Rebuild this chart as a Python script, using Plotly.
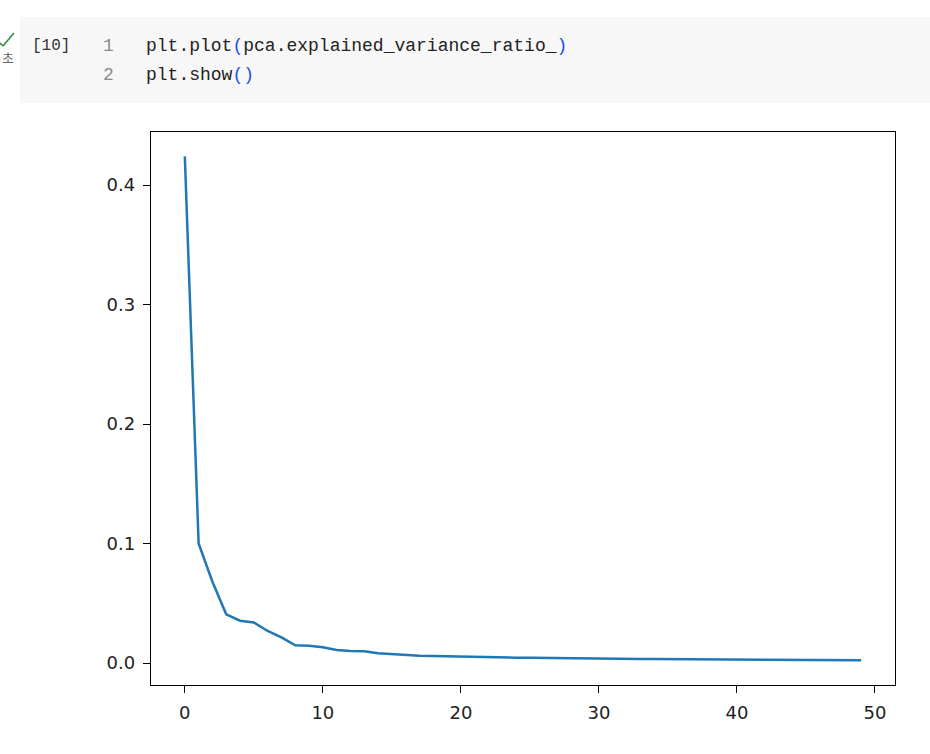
import plotly.graph_objects as go

# ---- data ----
components = list(range(50))
explained_variance_ratio = [
    0.424, 0.100, 0.068, 0.0408, 0.0354, 0.0340, 0.0268, 0.0215, 0.0148, 0.0145,
    0.0131, 0.0109, 0.0100, 0.0098, 0.0081, 0.0073, 0.0067, 0.0061, 0.0058, 0.0055,
    0.0053, 0.0051, 0.0049, 0.0047, 0.0045, 0.0044, 0.0042, 0.0040, 0.0039, 0.0038,
    0.0036, 0.0035, 0.0034, 0.0033, 0.0033, 0.0032, 0.0031, 0.0031, 0.0030, 0.0029,
    0.0029, 0.0028, 0.0027, 0.0027, 0.0026, 0.0026, 0.0025, 0.0025, 0.0024, 0.0023,
]
x_ticks = [0, 10, 20, 30, 40, 50]
y_ticks = [0.0, 0.1, 0.2, 0.3, 0.4]
y_tick_labels = ["0.0", "0.1", "0.2", "0.3", "0.4"]
cell_number = "[10]"
code_lines = [
    'plt.plot<span style="color:#1f4fe0">(</span>pca.explained_variance_ratio_<span style="color:#1f4fe0">)</span>',
    'plt.show<span style="color:#1f4fe0">()</span>',
]

W, H = 930, 754
L, R, T, B = 151, 895, 132, 685


def px(x):
    return (x - L) / (R - L)


def py(y):
    return (B - y) / (B - T)


fig = go.Figure()
fig.add_trace(go.Scatter(
    x=components, y=explained_variance_ratio, mode="lines",
    line=dict(color="#1f77b4", width=2.5), hoverinfo="skip", showlegend=False,
))

shapes = [
    dict(type="rect", xref="paper", yref="paper", x0=px(20), x1=px(940),
         y0=py(103), y1=py(17), fillcolor="#f7f7f7", line=dict(width=0), layer="below"),
    dict(type="line", xref="paper", yref="paper", x0=px(0), y0=py(43), x1=px(3), y1=py(46),
         line=dict(color="#2e8b3a", width=1.6)),
    dict(type="line", xref="paper", yref="paper", x0=px(3), y0=py(46), x1=px(14), y1=py(33),
         line=dict(color="#2e8b3a", width=1.6)),
]

annotations = [
    dict(text="초", xref="paper", yref="paper", x=px(8), y=py(57), xanchor="center",
         yanchor="middle", showarrow=False,
         font=dict(family="Noto Sans CJK KR", size=13, color="#666666")),
    dict(text=cell_number, xref="paper", yref="paper", x=px(30), y=py(46), xanchor="left",
         yanchor="middle", showarrow=False,
         font=dict(family="Liberation Mono", size=16, color="#333333")),
]
for i, line in enumerate(code_lines):
    yy = 46 + i * 29
    annotations.append(dict(text=str(i + 1), xref="paper", yref="paper", x=px(101), y=py(yy),
                            xanchor="left", yanchor="middle", showarrow=False,
                            font=dict(family="Liberation Mono", size=18, color="#8a8a8a")))
    annotations.append(dict(text=line, xref="paper", yref="paper", x=px(144), y=py(yy),
                            xanchor="left", yanchor="middle", showarrow=False,
                            font=dict(family="Liberation Mono", size=18, color="#222222")))

axis_common = dict(
    showline=True, linecolor="#000000", linewidth=1.3, mirror=True,
    ticks="outside", ticklen=7, tickwidth=1.3, tickcolor="#000000",
    showgrid=False, zeroline=False,
    tickfont=dict(family="DejaVu Sans", size=18, color="#222222"),
)

fig.update_layout(
    width=W, height=H,
    margin=dict(l=L, r=W - R, t=T, b=H - B),
    paper_bgcolor="white", plot_bgcolor="white",
    xaxis=dict(range=[-2.45, 51.45], tickvals=x_ticks, ticklabelstandoff=4, **axis_common),
    yaxis=dict(range=[-0.0184, 0.4444], tickvals=y_ticks, ticktext=y_tick_labels,
               ticklabelstandoff=4, **axis_common),
    shapes=shapes, annotations=annotations,
)

fig.write_html("out.html", config={"displayModeBar": False},
               post_script="document.body.style.margin='0px';document.body.style.overflow='hidden';")
